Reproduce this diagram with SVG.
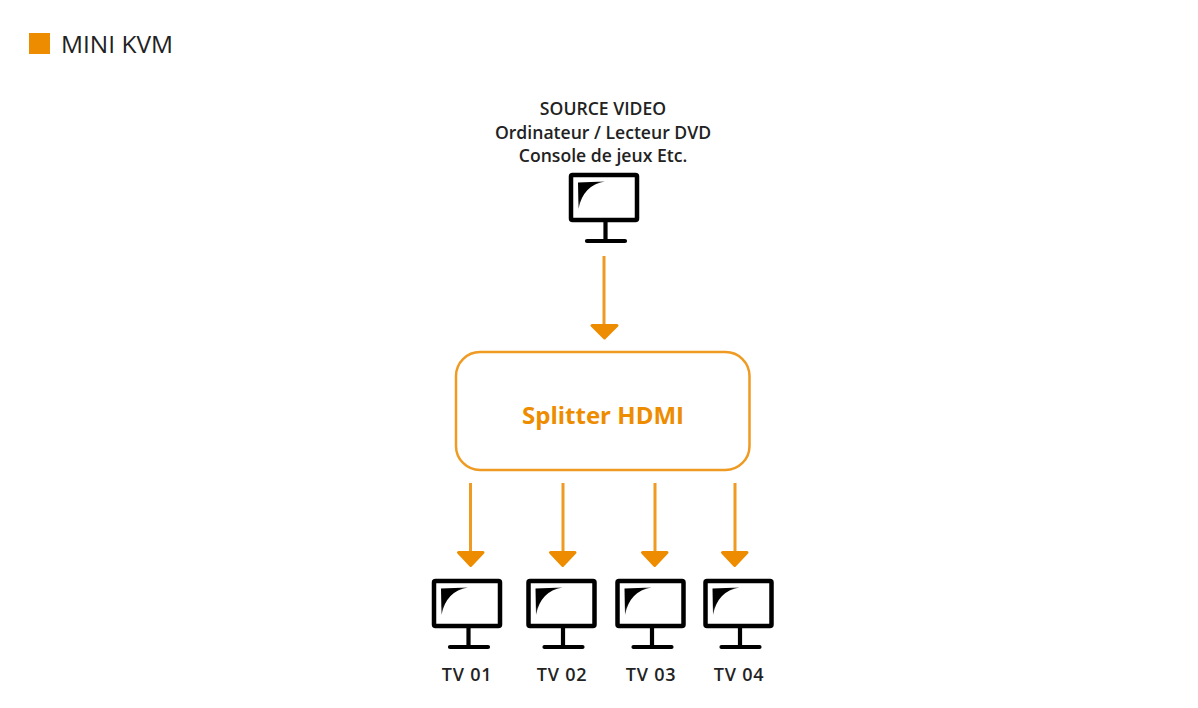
<svg xmlns="http://www.w3.org/2000/svg" width="1198" height="708" viewBox="0 0 1198 708">
<style>
.t{font-family:"Open Sans","Noto Sans","Liberation Sans",sans-serif;fill:#222;text-anchor:middle;font-size:17.600px;font-weight:600}
.v{font-size:18px;letter-spacing:0.800px}
.l{stroke:#EF9A22;stroke-width:3;fill:none}
.h{fill:#EE8C00;stroke:#EE8C00;stroke-width:3;stroke-linejoin:round}
</style>
<defs>
<linearGradient id="g" x1="0" y1="0" x2="1" y2="1"><stop offset="0.35" stop-color="#000"/><stop offset="0.85" stop-color="#000" stop-opacity="0"/></linearGradient>
<g id="mon">
<rect x="2" y="2" width="66" height="45" rx="1.500" fill="#fff" stroke="#000" stroke-width="4.500"/>
<path d="M9 9.500L36 8.500Q14 12 9.500 36Z" fill="url(#g)"/>
<path d="M36.500 47V68M18 68H56" stroke="#000" stroke-width="4.200" stroke-linecap="round" fill="none"/>
</g>
</defs>
<rect width="1198" height="708" fill="#fff"/>
<g id="legend">
<rect x="29" y="33" width="21" height="21" fill="#EE8C00"/>
<text x="61" y="53" font-family="Open Sans, Liberation Sans, sans-serif" font-size="24" fill="#222" textLength="112" lengthAdjust="spacingAndGlyphs">MINI KVM</text>
</g>
<g id="connectors">
<path class="l" d="M604 256V326M470.500 483V552M563 483V552M655 483V552M735 483V552"/>
<path class="h" d="M592 325.500H617L604.500 338Z"/>
<path class="h" d="M458.500 552.500H483L470.700 565.500Z"/>
<path class="h" d="M550.500 552.500H575L562.700 565.500Z"/>
<path class="h" d="M642.500 552.500H667L654.700 565.500Z"/>
<path class="h" d="M722.500 552.500H747L734.700 565.500Z"/>
</g>
<g id="source">
<text class="t" x="603" y="115">SOURCE VIDEO</text>
<text class="t" x="603" y="139">Ordinateur / Lecteur DVD</text>
<text class="t" x="603" y="162">Console de jeux Etc.</text>
<use href="#mon" x="569" y="173"/>
</g>
<g id="splitter">
<rect x="456" y="352" width="293.500" height="118" rx="24" fill="#fff" stroke="#EF9A22" stroke-width="2.500"/>
<text x="603" y="424" font-family="Open Sans, Liberation Sans, sans-serif" font-size="24" font-weight="700" fill="#EE8C00" text-anchor="middle" textLength="162" lengthAdjust="spacingAndGlyphs">Splitter HDMI</text>
</g>
<g id="tv01"><use href="#mon" x="432" y="579"/><text class="t v" x="467" y="681">TV 01</text></g>
<g id="tv02"><use href="#mon" x="526.500" y="579"/><text class="t v" x="562" y="681">TV 02</text></g>
<g id="tv03"><use href="#mon" x="615.500" y="579"/><text class="t v" x="651" y="681">TV 03</text></g>
<g id="tv04"><use href="#mon" x="703.500" y="579"/><text class="t v" x="739" y="681">TV 04</text></g>
</svg>
